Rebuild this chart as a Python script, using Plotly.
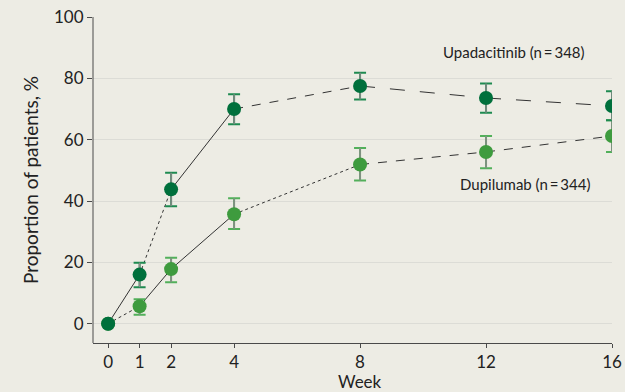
import plotly.graph_objects as go

# Response over time, proportion of patients (%) with 95% CI
weeks = [0, 1, 2, 4, 8, 12, 16]
tick_labels = ["0", "1", "2", "4", "8", "12", "16"]

upa_label = "Upadacitinib (n\u2009=\u2009348)"
upa_pct = [0, 16.0, 43.8, 70.0, 77.5, 73.6, 71.0]
upa_hi = [0, 19.9, 49.2, 74.8, 81.8, 78.3, 75.8]
upa_lo = [0, 11.9, 38.3, 65.0, 73.1, 68.8, 66.3]

dup_label = "Dupilumab (n\u2009=\u2009344)"
dup_pct = [0, 5.7, 17.8, 35.7, 51.9, 56.0, 61.2]
dup_hi = [0, 8.0, 21.5, 40.9, 57.3, 61.2, 66.3]
dup_lo = [0, 2.9, 13.5, 30.9, 46.7, 50.7, 56.0]

BG = "#EDECE4"
GRID = "#DCDCD6"
AXIS = "#4a4a4a"
UPA_C = "#00703C"
DUP_C = "#3E9B3E"
UPA_CAP = "#1E8A50"
DUP_CAP = "#52B05A"
FONT = "Lato, Liberation Sans, sans-serif"

# dash style of each connecting segment
upa_dash = ["solid", "dot", "solid", "dash", "longdash", "longdash"]
dup_dash = ["dot", "solid", "solid", "dot", "dash", "dash"]

fig = go.Figure()


def add_series(pct, hi, lo, dashes, color, cap_color):
    # connecting segments
    for i in range(len(weeks) - 1):
        fig.add_trace(go.Scatter(
            x=weeks[i:i + 2], y=pct[i:i + 2], mode="lines",
            line=dict(color="#333333", width=1, dash=dashes[i]),
            hoverinfo="skip", showlegend=False))
    plus = [h - p for h, p in zip(hi, pct)]
    minus = [p - l for p, l in zip(pct, lo)]
    # coloured caps
    fig.add_trace(go.Scatter(
        x=weeks, y=pct, mode="markers", marker=dict(size=1, opacity=0),
        error_y=dict(type="data", symmetric=False, array=plus, arrayminus=minus,
                     color=cap_color, thickness=2, width=6),
        hoverinfo="skip", showlegend=False))
    # grey stems
    fig.add_trace(go.Scatter(
        x=weeks, y=pct, mode="markers", marker=dict(size=1, opacity=0),
        error_y=dict(type="data", symmetric=False, array=plus, arrayminus=minus,
                     color="#8a8a8a", thickness=1.5, width=0),
        hoverinfo="skip", showlegend=False))


add_series(dup_pct, dup_hi, dup_lo, dup_dash, DUP_C, DUP_CAP)
add_series(upa_pct, upa_hi, upa_lo, upa_dash, UPA_C, UPA_CAP)

fig.add_trace(go.Scatter(x=weeks, y=dup_pct, mode="markers", name=dup_label,
                         marker=dict(size=14, color=DUP_C), showlegend=False))
fig.add_trace(go.Scatter(x=weeks, y=upa_pct, mode="markers", name=upa_label,
                         marker=dict(size=14, color=UPA_C), showlegend=False))

fig.add_annotation(x=16, y=88.5, text=upa_label, showarrow=False,
                   xanchor="right", xshift=-25, font=dict(size=15, color="#222"))
fig.add_annotation(x=16, y=45.5, text=dup_label, showarrow=False,
                   xanchor="right", xshift=-20, font=dict(size=15, color="#222"))

# x axis title, set just below the tick labels
fig.add_annotation(x=8, xref="x", y=0, yref="paper", yanchor="top", yshift=-26,
                   text="Week", showarrow=False, font=dict(size=17, color="#222"))

fig.update_layout(
    width=625, height=392,
    margin=dict(l=93, r=13, t=17, b=49),
    paper_bgcolor=BG, plot_bgcolor=BG,
    font=dict(family=FONT, size=16, color="#222"),
    showlegend=False,
    xaxis=dict(
        range=[-0.48, 16], tickvals=weeks, ticktext=tick_labels, automargin=False,
        showgrid=False, zeroline=False, showline=True, linecolor=AXIS, linewidth=1,
        ticks="outside", ticklen=4, tickcolor=AXIS,
        tickfont=dict(size=17),
    ),
    yaxis=dict(
        range=[-6.3, 100], tickvals=[0, 20, 40, 60, 80, 100], automargin=False,
        showgrid=True, gridcolor=GRID, gridwidth=1, zeroline=False,
        showline=False, ticks="outside", ticklen=5, tickcolor=AXIS,
        title=dict(text="Proportion of patients, %", standoff=10, font=dict(size=19)),
        tickfont=dict(size=17),
    ),
)

# y axis line running from the bottom of the plot up to 100
fig.add_shape(type="line", xref="paper", yref="y", x0=0, x1=0, y0=-6.3, y1=100,
              line=dict(color=AXIS, width=1))

fig.write_html("out.html")
